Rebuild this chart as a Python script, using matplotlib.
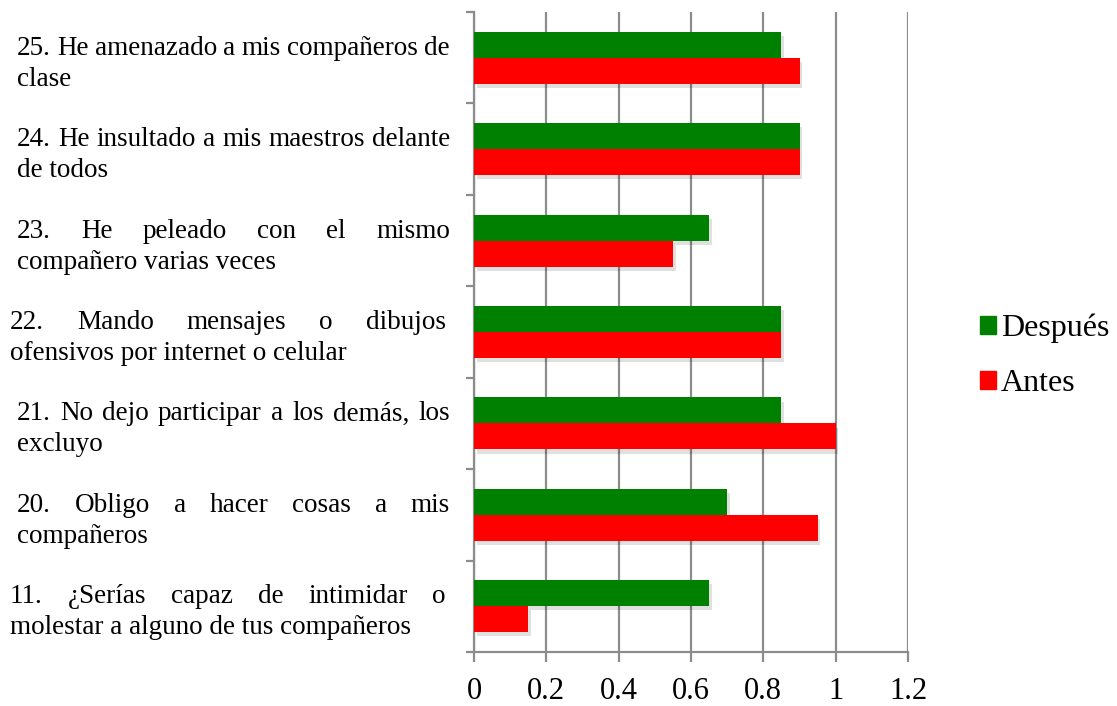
import numpy as np
import matplotlib
matplotlib.use("Agg")
import matplotlib.pyplot as plt
import matplotlib.patheffects as pe
from matplotlib.patches import Patch

# --- data (bottom to top) ---
label_lines = [
    ["11. ¿Serías capaz de intimidar o", "molestar a alguno de tus compañeros"],
    ["20. Obligo a hacer cosas a mis", "compañeros"],
    ["21. No dejo participar a los demás, los", "excluyo"],
    ["22. Mando mensajes o dibujos", "ofensivos por internet o celular"],
    ["23. He peleado con el mismo", "compañero varias veces"],
    ["24. He insultado a mis maestros delante", "de todos"],
    ["25. He amenazado a mis compañeros de", "clase"],
]
despues = [0.65, 0.70, 0.85, 0.85, 0.65, 0.90, 0.85]
antes = [0.15, 0.95, 1.00, 0.85, 0.55, 0.90, 0.90]
series_names = ["Después", "Antes"]
xticks = [0, 0.2, 0.4, 0.6, 0.8, 1.0, 1.2]
xtick_labels = ["0", "0.2", "0.4", "0.6", "0.8", "1", "1.2"]

# label block left/right edges (px) per category
label_left = [10, 17, 17, 10, 17, 17, 17]
label_right = [446, 450, 450, 446, 450, 450, 450]

plt.rcParams['font.family'] = ['Liberation Serif', 'DejaVu Serif']

W, H = 1117, 706
fig = plt.figure(figsize=(W / 100, H / 100), dpi=100)
ax = fig.add_axes([474 / W, 54 / H, (908 - 474) / W, (652 - 12) / H])

y = np.arange(len(label_lines))
bh = 0.284
shadow = [pe.SimplePatchShadow(offset=(2, -3), shadow_rgbFace='black', alpha=0.12), pe.Normal()]
ax.barh(y + bh / 2, despues, height=bh, color='#008000', path_effects=shadow, zorder=3)
ax.barh(y - bh / 2, antes, height=bh, color='#ff0000', path_effects=shadow, zorder=3)

ax.set_xlim(0, 1.2)
ax.set_ylim(-0.5, len(label_lines) - 0.5)
ax.set_xticks(xticks)
ax.set_xticklabels(xtick_labels, fontsize=22)
ax.set_yticks(np.arange(-0.5, len(label_lines), 1.0))
ax.set_yticklabels([])
gc = '#8c8c8c'
ax.grid(axis='x', color=gc, linewidth=1.6, zorder=0)
ax.set_axisbelow(True)
for s in ['top', 'right']:
    ax.spines[s].set_visible(False)
for s in ['left', 'bottom']:
    ax.spines[s].set_color(gc)
    ax.spines[s].set_linewidth(1.6)
ax.tick_params(axis='x', direction='out', length=7, width=1.6, color=gc, pad=11)
ax.tick_params(axis='y', direction='out', length=6, width=1.6, color=gc)

# justified two-line category labels
fig.canvas.draw()
renderer = fig.canvas.get_renderer()
fs = 19.5
for i, (l1, l2) in enumerate(label_lines):
    cy = ax.transData.transform((0, i))[1]  # display px from bottom
    b1 = cy + 3
    b2 = cy - 28
    words = l1.split()
    texts = [fig.text(0, b1 / H, w, fontsize=fs, va='baseline', ha='left') for w in words]
    widths = [t.get_window_extent(renderer).width for t in texts]
    x0, x1 = label_left[i], label_right[i]
    gap = (x1 - x0 - sum(widths)) / (len(words) - 1)
    x = x0
    for t, w in zip(texts, widths):
        t.set_x(x / W)
        x += w + gap
    fig.text(x0 / W, b2 / H, l2, fontsize=fs, va='baseline', ha='left')

handles = [Patch(color='#008000'), Patch(color='#ff0000')]
fig.legend(handles, series_names, loc='center left', bbox_to_anchor=(964 / W, 1 - 356 / H),
           frameon=False, fontsize=23, handlelength=0.5, handleheight=0.5,
           handletextpad=0.15, labelspacing=0.8, borderpad=0)

fig.savefig("out.png", dpi=100)
